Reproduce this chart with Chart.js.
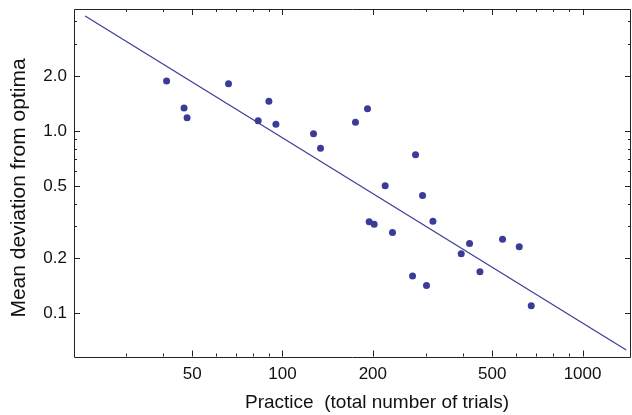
<!DOCTYPE html>
<html>
<head>
<meta charset="utf-8">
<script src="https://cdn.jsdelivr.net/npm/chart.js@4"></script>
<style>
  html, body { margin: 0; padding: 0; background: #fff; }
  canvas { display: block; }
</style>
</head>
<body>
<canvas id="chart" width="632" height="415"></canvas>
<script>
// data
const practice = [41.1, 47.0, 48.1, 66.1, 83.0, 90.1, 95.1, 126.9, 133.9, 175.1, 192.0, 277.6, 219.9,
    292.9, 194.5, 202.1, 232.6, 317.2, 420.1, 394.1, 541.2, 615.2, 271.3, 302.0, 455.0, 674.5];
const deviation = [1.88, 1.337, 1.183, 1.817, 1.139, 1.455, 1.088, 0.966, 0.804, 1.116, 1.326, 0.741, 0.501,
    0.442, 0.318, 0.308, 0.277, 0.320, 0.241, 0.212, 0.255, 0.232, 0.160, 0.142, 0.169, 0.110];

// fitted power law, end points
const fitX = [22.0, 1398];
const fitY = [4.27, 0.0629];

// ticks
const xTicks = [50, 100, 200, 500, 1000];
const xTickLabels = ['50', '100', '200', '500', '1000'];
const xMinorTicks = [30, 40, 60, 70, 80, 90, 300, 400, 600, 700, 800, 900];
const yTicks = [0.1, 0.2, 0.5, 1, 2];
const yTickLabels = ['0.1', '0.2', '0.5', '1.0', '2.0'];
const yMinorTicks = [0.3, 0.4, 0.6, 0.7, 0.8, 0.9, 3, 4];

const xTitle = 'Practice  (total number of trials)';
const yTitle = 'Mean deviation from optima';

const markColor = '#3c3c98';
const axisColor = '#222';
const textColor = '#111';
const fontFamily = '"Liberation Sans", Arial, sans-serif';

// Mathematica style frame: box round the plot with ticks pointing inwards
const frameTicks = {
    id: 'frameTicks',
    afterDraw(chart) {
        const { ctx, chartArea: a } = chart;
        const xs = chart.scales.x, ys = chart.scales.y;
        const r = v => Math.round(v) + 0.5;
        ctx.save();
        ctx.strokeStyle = axisColor;
        ctx.lineWidth = 1;
        ctx.beginPath();
        ctx.rect(r(a.left), r(a.top), Math.round(a.right - a.left) - 1, Math.round(a.bottom - a.top));
        const xMark = (v, len) => {
            const px = r(xs.getPixelForValue(v));
            ctx.moveTo(px, a.bottom); ctx.lineTo(px, a.bottom - len);
            ctx.moveTo(px, a.top); ctx.lineTo(px, a.top + len);
        };
        const yMark = (v, len) => {
            const py = r(ys.getPixelForValue(v));
            ctx.moveTo(a.left, py); ctx.lineTo(a.left + len, py);
            ctx.moveTo(a.right, py); ctx.lineTo(a.right - len, py);
        };
        xTicks.forEach(v => xMark(v, 6));
        xMinorTicks.forEach(v => xMark(v, 3));
        yTicks.forEach(v => yMark(v, 6));
        yMinorTicks.forEach(v => yMark(v, 3));
        ctx.stroke();

        // axis titles, centred a bit off the plot centre like the original
        ctx.fillStyle = textColor;
        ctx.textAlign = 'center';
        ctx.textBaseline = 'middle';
        ctx.font = '19px ' + fontFamily;
        ctx.fillText(xTitle, 377, 403);
        ctx.translate(19, 188);
        ctx.rotate(-Math.PI / 2);
        ctx.font = '21px ' + fontFamily;
        ctx.fillText(yTitle, 0, 0);
        ctx.restore();
    }
};

// fixed axis boxes so the plot area sits where it does in the original
function fixBox(s, size) {
    if (s.isHorizontal()) s.height = size; else s.width = size;
    s.paddingTop = 0; s.paddingBottom = 0; s.paddingLeft = 0; s.paddingRight = 0;
}

const points = practice.map((x, i) => ({ x: x, y: deviation[i] }));
const fitLine = fitX.map((x, i) => ({ x: x, y: fitY[i] }));

new Chart(document.getElementById('chart'), {
    type: 'scatter',
    data: {
        datasets: [
            {
                data: points,
                backgroundColor: markColor,
                borderColor: markColor,
                borderWidth: 0,
                pointRadius: 3.5
            },
            {
                data: fitLine,
                showLine: true,
                borderColor: markColor,
                borderWidth: 1.2,
                pointRadius: 0
            }
        ]
    },
    options: {
        responsive: false,
        animation: false,
        devicePixelRatio: 1,
        layout: { autoPadding: false, padding: { top: 9, right: 1, left: 0, bottom: 0 } },
        plugins: {
            legend: { display: false },
            tooltip: { enabled: false }
        },
        scales: {
            x: {
                type: 'logarithmic',
                position: 'bottom',
                min: 20.2,
                max: 1450,
                grid: { display: false, drawTicks: false },
                border: { display: false },
                afterBuildTicks: s => { s.ticks = xTicks.map(v => ({ value: v })); },
                afterFit: s => fixBox(s, 58.5),
                ticks: {
                    autoSkip: false,
                    maxRotation: 0,
                    padding: 8,
                    color: textColor,
                    font: { family: fontFamily, size: 17 },
                    callback: (v, i) => xTickLabels[i]
                },
                title: { display: false }
            },
            y: {
                type: 'logarithmic',
                position: 'left',
                min: 0.0579,
                max: 4.67,
                grid: { display: false, drawTicks: false },
                border: { display: false },
                afterBuildTicks: s => { s.ticks = yTicks.map(v => ({ value: v })); },
                afterFit: s => fixBox(s, 74),
                ticks: {
                    autoSkip: false,
                    padding: 7,
                    color: textColor,
                    font: { family: fontFamily, size: 17 },
                    callback: (v, i) => yTickLabels[i]
                },
                title: { display: false }
            }
        }
    },
    plugins: [frameTicks]
});
</script>
</body>
</html>
